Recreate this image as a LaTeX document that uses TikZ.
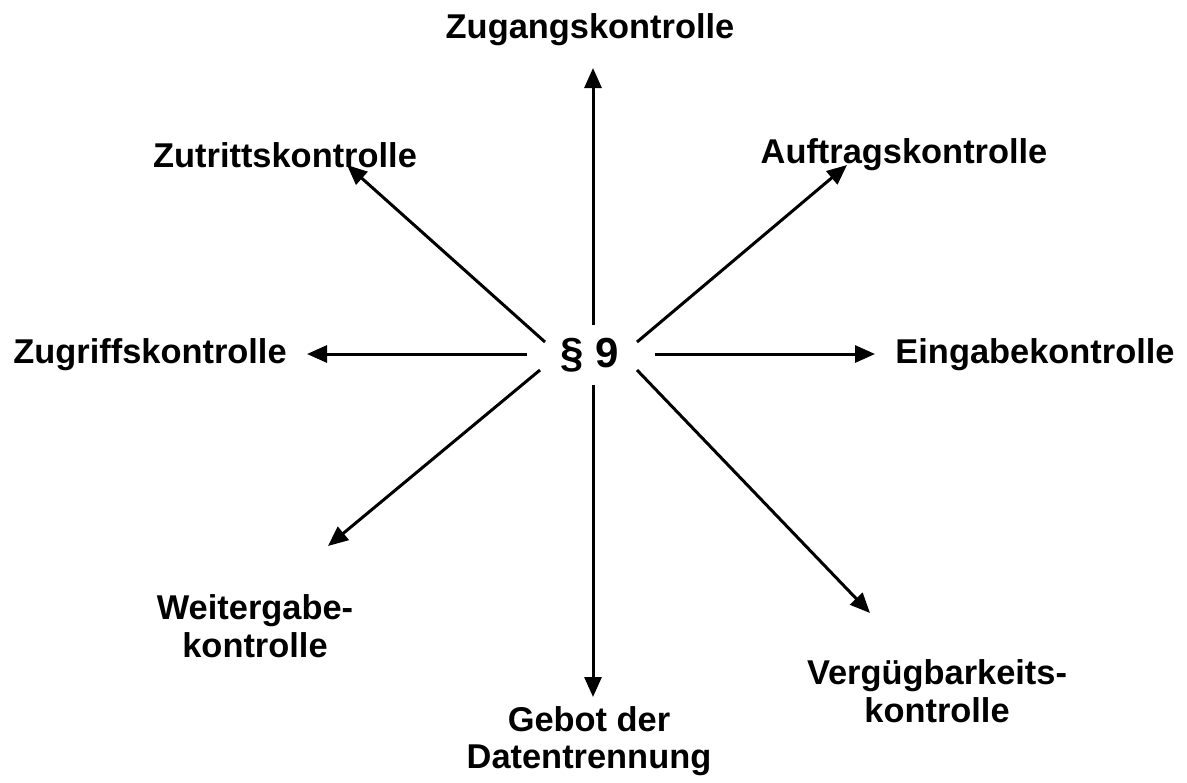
\documentclass[tikz,border=0pt]{standalone}
\usepackage{fontspec}
\setmainfont{Liberation Sans}
\usetikzlibrary{arrows.meta}
\tikzset{
  massnahme/.style = {font=\bfseries\fontsize{17.2}{18.8}\selectfont, align=center, inner sep=0pt},
  pfeil/.style = {line width=1.5pt, -{Triangle[length=10pt,width=8.5pt]}}
}
\begin{document}
\begin{tikzpicture}[x=0.5pt,y=-0.5pt]
    \useasboundingbox (0,0) rectangle (1187,782);
    \node[massnahme, font=\bfseries\fontsize{21}{21}\selectfont] (p9) at (590,355) {\S\ 9};
    \node[massnahme] (zugang)   at (590,30)  {Zugangskontrolle};
    \node[massnahme] (zutritt)  at (285,155) {Zutrittskontrolle};
    \node[massnahme] (auftrag)  at (904,155) {Auftragskontrolle};
    \node[massnahme] (zugriff)  at (150,355) {Zugriffskontrolle};
    \node[massnahme] (eingabe)  at (1035,355) {Eingabekontrolle};
    \node[massnahme] (weiter)   at (255,626) {Weitergabe-\\kontrolle};
    \node[massnahme] (verfueg)  at (937,691) {Vergügbarkeits-\\kontrolle};
    \node[massnahme] (gebot)    at (589,741) {Gebot der\\Datentrennung};
    % Pfeile
    \coordinate (s1) at (593,325); \coordinate (e1) at (593,68);
    \coordinate (s2) at (545,342); \coordinate (e2) at (347,165);
    \coordinate (s3) at (637,342); \coordinate (e3) at (847,165);
    \coordinate (s4) at (527,354); \coordinate (e4) at (307,354);
    \coordinate (s5) at (655,354); \coordinate (e5) at (875,354);
    \coordinate (s6) at (540,370); \coordinate (e6) at (328,546);
    \coordinate (s7) at (593,385); \coordinate (e7) at (593,697);
    \coordinate (s8) at (637,370); \coordinate (e8) at (870,613);
    \draw[pfeil] (s1) -- (e1);
    \draw[pfeil] (s2) -- (e2);
    \draw[pfeil] (s3) -- (e3);
    \draw[pfeil] (s4) -- (e4);
    \draw[pfeil] (s5) -- (e5);
    \draw[pfeil] (s6) -- (e6);
    \draw[pfeil] (s7) -- (e7);
    \draw[pfeil] (s8) -- (e8);
\end{tikzpicture}
\end{document}
